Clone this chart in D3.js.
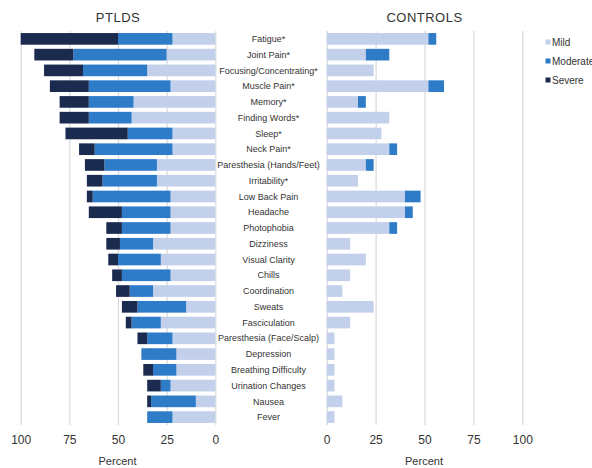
<!DOCTYPE html>
<html>
<head>
<meta charset="utf-8">
<script src="https://cdn.jsdelivr.net/npm/d3@7"></script>
<style>
  body { margin: 0; background: #fff; font-family: "Liberation Sans", Arial, sans-serif; }
</style>
</head>
<body>
<div id="chart"></div>
<script>
// symptoms, top to bottom
const symptoms = [
  "Fatigue*", "Joint Pain*", "Focusing/Concentrating*", "Muscle Pain*", "Memory*",
  "Finding Words*", "Sleep*", "Neck Pain*", "Paresthesia (Hands/Feet)", "Irritability*",
  "Low Back Pain", "Headache", "Photophobia", "Dizziness", "Visual Clarity", "Chills",
  "Coordination", "Sweats", "Fasciculation", "Paresthesia (Face/Scalp)", "Depression",
  "Breathing Difficulty", "Urination Changes", "Nausea", "Fever"
];

// PTLDS percentages
const ptldsMild     = [22, 25, 35, 23, 42, 43, 22, 22, 30, 30, 23, 23, 23, 32, 28, 23, 32, 15, 28, 22, 20, 20, 23, 10, 22];
const ptldsModerate = [28, 48, 33, 42, 23, 22, 23, 40, 27, 28, 40, 25, 25, 17, 22, 25, 12, 25, 15, 13, 18, 12, 5, 23, 13];
const ptldsSevere   = [50, 20, 20, 20, 15, 15, 32, 8, 10, 8, 3, 17, 8, 7, 5, 5, 7, 8, 3, 5, 0, 5, 7, 2, 0];

// CONTROLS percentages
const ctrlMild     = [52, 20, 24, 52, 16, 32, 28, 32, 20, 16, 40, 40, 32, 12, 20, 12, 8, 24, 12, 4, 4, 4, 4, 8, 4];
const ctrlModerate = [4, 12, 0, 8, 4, 0, 0, 4, 4, 0, 8, 4, 4, 0, 0, 0, 0, 0, 0, 0, 0, 0, 0, 0, 0];
const ctrlSevere   = [0, 0, 0, 0, 0, 0, 0, 0, 0, 0, 0, 0, 0, 0, 0, 0, 0, 0, 0, 0, 0, 0, 0, 0, 0];

const levels = ["Mild", "Moderate", "Severe"];
const tickValues = [0, 25, 50, 75, 100];

const colors = { Mild: "#c3d0eb", Moderate: "#2e7bc8", Severe: "#1b2a4f" };

const width = 592, height = 468;
const plotTop = 31, plotBottom = 425;

const svg = d3.select("#chart").append("svg")
  .attr("width", width)
  .attr("height", height);

const y = d3.scaleBand()
  .domain(symptoms)
  .range([plotTop, plotBottom])
  .paddingInner(0.26)
  .paddingOuter(0.13);

const xLeft = d3.scaleLinear().domain([0, 100]).range([215.3, 20.7]);
const xRight = d3.scaleLinear().domain([0, 100]).range([326.7, 522.3]);

function buildRows(mild, moderate, severe) {
  return symptoms.map((s, i) => ({ symptom: s, Mild: mild[i], Moderate: moderate[i], Severe: severe[i] }));
}

function drawPanel(rows, x, title) {
  const g = svg.append("g");

  // gridlines
  g.append("g")
    .attr("transform", `translate(0,${plotBottom})`)
    .call(d3.axisBottom(x).tickValues(tickValues).tickSize(-(plotBottom - plotTop)).tickFormat(""))
    .call(a => a.select(".domain").remove())
    .call(a => a.selectAll("line").attr("stroke", "#d9d9d9").attr("stroke-width", 1.2));

  const stacked = d3.stack().keys(levels)(rows);

  g.selectAll("g.layer")
    .data(stacked)
    .join("g")
    .attr("class", "layer")
    .attr("fill", d => colors[d.key])
    .selectAll("rect")
    .data(d => d)
    .join("rect")
    .attr("x", d => Math.min(x(d[0]), x(d[1])))
    .attr("width", d => Math.abs(x(d[1]) - x(d[0])))
    .attr("y", d => y(d.data.symptom))
    .attr("height", y.bandwidth());

  // tick labels
  g.append("g")
    .attr("transform", `translate(0,${plotBottom})`)
    .call(d3.axisBottom(x).tickValues(tickValues).tickSize(0).tickPadding(10))
    .call(a => a.select(".domain").remove())
    .call(a => a.selectAll("text")
      .attr("font-family", "Liberation Sans, Arial, sans-serif")
      .attr("font-size", 12)
      .attr("fill", "#333"));

  const mid = (x(0) + x(100)) / 2;

  g.append("text")
    .attr("x", mid - 0.5)
    .attr("y", 465)
    .attr("text-anchor", "middle")
    .attr("font-size", 11)
    .attr("fill", "#333")
    .text("Percent");

  g.append("text")
    .attr("x", mid)
    .attr("y", 22)
    .attr("text-anchor", "middle")
    .attr("font-size", 13)
    .attr("letter-spacing", 0.5)
    .attr("fill", "#333")
    .text(title);
}

drawPanel(buildRows(ptldsMild, ptldsModerate, ptldsSevere), xLeft, "PTLDS");
drawPanel(buildRows(ctrlMild, ctrlModerate, ctrlSevere), xRight, "CONTROLS");

// symptom labels between the panels
svg.append("g")
  .selectAll("text")
  .data(symptoms)
  .join("text")
  .attr("x", 268.5)
  .attr("y", d => y(d) + y.bandwidth() / 2)
  .attr("dy", "0.35em")
  .attr("text-anchor", "middle")
  .attr("font-size", 9)
  .attr("fill", "#333")
  .text(d => d);

// legend
const legend = svg.append("g")
  .selectAll("g")
  .data(levels)
  .join("g")
  .attr("transform", (d, i) => `translate(545.5,${42 + i * 19})`);

legend.append("rect")
  .attr("x", 0)
  .attr("y", -2.5)
  .attr("width", 5)
  .attr("height", 5)
  .attr("fill", d => colors[d]);

legend.append("text")
  .attr("x", 6.5)
  .attr("dy", "0.35em")
  .attr("font-size", 10)
  .attr("fill", "#333")
  .text(d => d);
</script>
</body>
</html>
